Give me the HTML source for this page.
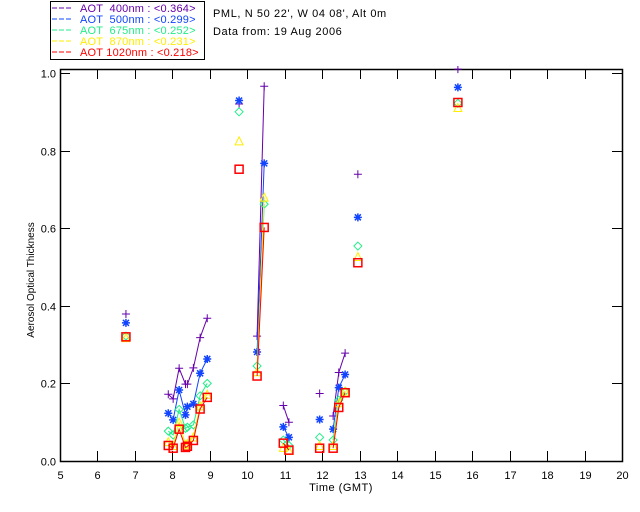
<!DOCTYPE html>
<html><head><meta charset="utf-8"><style>
body{margin:0;background:#fff;}
svg{display:block;font-family:"Liberation Sans",sans-serif;}
</style></head><body>
<svg id="chart" width="640" height="512">
<rect width="640" height="512" fill="#fff"/>
<g id="legend">
<rect x="50.5" y="1.5" width="154" height="58" fill="none" stroke="#000"/>
</g>
<text x="213" y="17" font-size="11" letter-spacing="0.6">PML, N 50 22', W 04 08', Alt 0m</text>
<text x="213" y="35" font-size="11" letter-spacing="0.6">Data from: 19 Aug 2006</text>
<g id="axes"></g>
<defs><clipPath id="clip"><rect x="60" y="66" width="563" height="396"/></clipPath></defs>
<g id="marks" clip-path="url(#clip)"></g>
<text x="341" y="491" font-size="11" letter-spacing="0.5" text-anchor="middle">Time (GMT)</text>
<text transform="translate(34,280) rotate(-90)" font-size="10" text-anchor="middle">Aerosol Optical Thickness</text>
</svg>
<script>
const seriesNames = ["AOT  400nm", "AOT  500nm", "AOT  675nm", "AOT  870nm", "AOT 1020nm"];
const seriesMeans = ["0.364", "0.299", "0.252", "0.231", "0.218"];
const seriesColors = ["#6600aa", "#1144ff", "#22ee88", "#ffee00", "#ff0000"];
const seriesMarkers = ["plus", "star", "diamond", "triangle", "square"];
const segTimes = [
  [6.76],
  [7.89, 8.02, 8.18, 8.35, 8.40, 8.56, 8.74, 8.93],
  [9.78],
  [10.26, 10.45],
  [10.96, 11.11],
  [11.93],
  [12.29, 12.44, 12.61],
  [12.95],
  [15.62]
];
const aot400 = [[0.379],[0.172,0.160,0.239,0.198,0.198,0.240,0.318,0.368],[0.920],[0.322,0.966],[0.143,0.100],[0.174],[0.116,0.228,0.278],[0.739],[1.010]];
const aot500 = [[0.356],[0.123,0.106,0.183,0.119,0.140,0.147,0.226,0.263],[0.929],[0.281,0.767],[0.088,0.061],[0.107],[0.082,0.189,0.223],[0.628],[0.963]];
const aot675 = [[0.322],[0.077,0.067,0.133,0.084,0.087,0.093,0.168,0.200],[0.900],[0.245,0.662],[0.054,0.040],[0.061],[0.054,0.157,0.180],[0.554],[0.922]];
const aot870 = [[0.318],[0.050,0.040,0.100,0.042,0.045,0.062,0.142,0.172],[0.825],[0.230,0.680],[0.035,0.027],[0.040],[0.040,0.150,0.180],[0.527],[0.911]];
const aot1020 = [[0.320],[0.040,0.033,0.082,0.035,0.038,0.053,0.134,0.164],[0.752],[0.219,0.602],[0.046,0.028],[0.033],[0.033,0.138,0.176],[0.511],[0.924]];
const allSeries = [aot400, aot500, aot675, aot870, aot1020];
const xTicks = [5,6,7,8,9,10,11,12,13,14,15,16,17,18,19,20];
const yTicks = [0.0,0.2,0.4,0.6,0.8,1.0];
const yTickLabels = ["0.0","0.2","0.4","0.6","0.8","1.0"];

const X0=60, X1=622, YB=461, YT=69;
function xs(t){return X0+(t-5)/15*(X1-X0);}
function ys(v){return 461-v*388;}
const NS="http://www.w3.org/2000/svg";
function mk(tag,attrs,parent){const e=document.createElementNS(NS,tag);for(const k in attrs)e.setAttribute(k,attrs[k]);parent.appendChild(e);return e;}

const lg=document.getElementById('legend');
seriesNames.forEach((n,i)=>{
  const y=12+i*11;
  const l=mk('line',{x1:52,x2:73,y1:y-4,y2:y-4,stroke:seriesColors[i],'stroke-dasharray':'5,2'},lg);
  
  
  const t=mk('text',{x:80,y:y,'font-size':11,fill:seriesColors[i],'letter-spacing':'0.2',style:'white-space:pre'},lg);
  t.textContent=n+' : <'+seriesMeans[i]+'>';
  
  
});

const ax=document.getElementById('axes');
const frame=mk('rect',{x:X0+0.5,y:YT+0.5,width:X1-X0,height:YB-YT,fill:'none',stroke:'#000','stroke-width':1.5},ax);


xTicks.forEach(t=>{
  const x=Math.round(xs(t))+0.5;
  mk('line',{x1:x,x2:x,y1:YB,y2:YB-10,stroke:'#000'},ax);
  mk('line',{x1:x,x2:x,y1:YT,y2:YT+10,stroke:'#000'},ax);
  const tx=mk('text',{x:x,y:479,'font-size':11,'text-anchor':'middle'},ax);
  tx.textContent=t;
  
  
});
yTicks.forEach((v,i)=>{
  const y=Math.round(ys(v))+0.5;
  mk('line',{x1:X0,x2:X0+10,y1:y,y2:y,stroke:'#000'},ax);
  mk('line',{x1:X1,x2:X1-10,y1:y,y2:y,stroke:'#000'},ax);
  const tx=mk('text',{x:56,y:y+4,'font-size':11,'text-anchor':'end'},ax);
  tx.textContent=yTickLabels[i];
  
  
});

const mg=document.getElementById('marks');
function marker(type,x,y,c,g){
  const s=4;
  if(type==='plus'){mk('path',{d:`M${x-s} ${y}H${x+s}M${x} ${y-s}V${y+s}`,stroke:c,fill:'none'},g);}
  else if(type==='star'){mk('path',{d:`M${x-s} ${y}H${x+s}M${x} ${y-s}V${y+s}M${x-3} ${y-3}L${x+3} ${y+3}M${x-3} ${y+3}L${x+3} ${y-3}`,stroke:c,fill:'none','stroke-width':1.5},g);}
  else if(type==='diamond'){mk('path',{d:`M${x} ${y-s}L${x+s} ${y}L${x} ${y+s}L${x-s} ${y}Z`,stroke:c,fill:'none'},g);}
  else if(type==='triangle'){mk('path',{d:`M${x} ${y-s}L${x+s} ${y+s}L${x-s} ${y+s}Z`,stroke:c,fill:'none'},g);}
  else {mk('rect',{x:x-s,y:y-s,width:2*s,height:2*s,stroke:c,fill:'none','stroke-width':1.5},g);}
}
allSeries.forEach((ser,si)=>{
  const g=mk('g',{},mg);
  
  
  ser.forEach((vals,k)=>{
    const ts=segTimes[k];
    if(vals.length>1){
      const pts=vals.map((v,j)=>xs(ts[j]).toFixed(1)+','+ys(v).toFixed(1)).join(' ');
      const pl=mk('polyline',{points:pts,fill:'none',stroke:seriesColors[si],'stroke-width':1},g);
      
      
    }
    vals.forEach((v,j)=>marker(seriesMarkers[si],xs(ts[j]),ys(v),seriesColors[si],g));
  });
});
</script>
</body></html>
